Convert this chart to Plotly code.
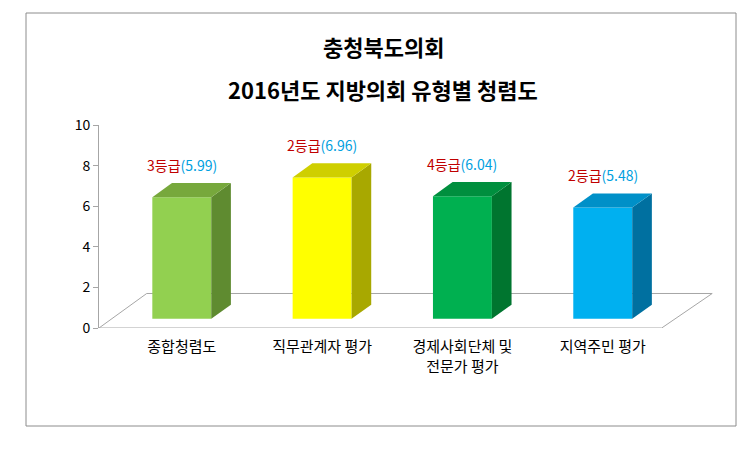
import plotly.graph_objects as go

categories = ["종합청렴도", "직무관계자 평가", "경제사회단체 및<br>전문가 평가", "지역주민 평가"]
scores = [5.99, 6.96, 6.04, 5.48]
grades = ["3등급", "2등급", "4등급", "2등급"]
front_colors = ["#92D050", "#FFFF00", "#00B050", "#00B0F0"]
side_colors = ["#5F8B30", "#A8A800", "#00752F", "#0070A0"]
top_colors = ["#77A83C", "#CFCF00", "#008F3E", "#0090C8"]

FONT = "Noto Sans CJK KR"
base = 0.45      # bar base height on the floor
half = 0.21      # half width of front face
dx, dy = 0.14, 0.7  # depth offset

fig = go.Figure()

# floor
fig.add_trace(go.Scatter(
    x=[-0.59, 3.42, 3.78, -0.25, -0.59], y=[0, 0, 1.7, 1.7, 0],
    fill="toself", fillcolor="white", mode="lines",
    line=dict(color="#A6A6A6", width=1), hoverinfo="skip", showlegend=False))

for i, v in enumerate(scores):
    l, r = i - half, i + half
    top = base + v
    fig.add_trace(go.Scatter(x=[l, r, r, l, l], y=[base, base, top, top, base], fill="toself",
                             fillcolor=front_colors[i], mode="lines", line=dict(width=0),
                             hoverinfo="skip", showlegend=False))
    fig.add_trace(go.Scatter(x=[r, r + dx, r + dx, r, r], y=[base, base + dy, top + dy, top, base],
                             fill="toself", fillcolor=side_colors[i], mode="lines", line=dict(width=0),
                             hoverinfo="skip", showlegend=False))
    fig.add_trace(go.Scatter(x=[l, r, r + dx, l + dx, l], y=[top, top, top + dy, top + dy, top],
                             fill="toself", fillcolor=top_colors[i], mode="lines", line=dict(width=0),
                             hoverinfo="skip", showlegend=False))
    fig.add_annotation(x=i, y=top + dy + 0.3, yanchor="bottom", showarrow=False,
                       text=f"<span style='color:#C00000'>{grades[i]}</span>"
                            f"<span style='color:#00A0E0'>({v:.2f})</span>",
                       font=dict(family=FONT, size=14))

# title lines
for text, ypix in [("<b>충청북도의회</b>", 45), ("<b>2016년도 지방의회 유형별 청렴도</b>", 88)]:
    fig.add_annotation(xref="paper", yref="paper", x=(375 - 91) / 616, y=(327 - ypix) / 203,
                       text=text, showarrow=False, xanchor="center", yanchor="middle",
                       font=dict(family=FONT, size=22))

fig.update_layout(
    width=749, height=451,
    margin=dict(l=91, r=42, t=117, b=131),
    paper_bgcolor="white", plot_bgcolor="white",
    font=dict(family=FONT, size=14, color="#000000"),
    xaxis=dict(range=[-0.59, 3.8], tickvals=[0, 1, 2, 3], ticktext=categories,
               showline=False, showgrid=False, zeroline=False, ticks="",
               ticklabelstandoff=8, tickfont=dict(size=15)),
    yaxis=dict(range=[0, 10], dtick=2, showline=True, linecolor="#A6A6A6",
               ticks="outside", tickcolor="#A6A6A6", ticklen=5,
               showgrid=False, zeroline=False, tickfont=dict(size=14)),
    shapes=[dict(type="rect", xref="paper", yref="paper",
                 x0=(18 - 91) / 616, x1=(728 - 91) / 616,
                 y0=(327 - 425) / 203, y1=(327 - 12) / 203,
                 line=dict(color="#8C8C8C", width=1), layer="below")],
)

fig.write_html("out.html")
